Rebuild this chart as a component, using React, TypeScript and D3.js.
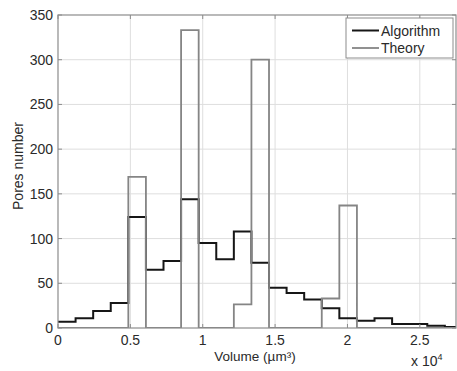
import React, { useEffect, useRef } from 'react';
import * as d3 from 'd3';

// bin edges of the histogram (µm³), last value is the axis end
const binEdges = [0, 1215, 2430, 3645, 4860, 6075, 7290, 8505, 9720, 10935, 12150, 13365,
	14580, 15795, 17010, 18225, 19440, 20655, 21870, 23085, 24300, 25515, 26730, 27500];
const algorithm = [7, 11, 19, 28, 124, 65, 75, 144, 95, 77, 108, 73, 45, 39, 32, 22, 11, 8, 11, 4.5, 4.5, 2.6, 1];
const theory = [0, 0, 0, 0, 169, 0, 0, 333, 0, 0, 26.5, 300, 0, 0, 0, 33, 137, 0, 0, 0, 0, 0, 0];
const xTicks = [0, 5000, 10000, 15000, 20000, 25000];
const yTicks = [0, 50, 100, 150, 200, 250, 300, 350];
const seriesNames = ['Algorithm', 'Theory'];
const seriesColors = ['#161616', '#858585'];

const W = 457, H = 371;
const left = 58, top = 15, right = 456, bottom = 328;

const App = () => {
	const ref = useRef<SVGSVGElement>(null);

	useEffect(() => {
		const svg = d3.select(ref.current);
		svg.selectAll('*').remove();

		const x = d3.scaleLinear().domain([0, 27500]).range([left, right]);
		const y = d3.scaleLinear().domain([0, 350]).range([bottom, top]);

		svg.append('rect').attr('x', 0).attr('y', 0).attr('width', W).attr('height', H).attr('fill', '#fff');

		// grid
		const grid = svg.append('g').attr('stroke', '#dedede').attr('stroke-width', 1);
		xTicks.slice(1).forEach(t => {
			grid.append('line').attr('x1', x(t)).attr('x2', x(t)).attr('y1', top).attr('y2', bottom);
		});
		yTicks.slice(1, -1).forEach(t => {
			grid.append('line').attr('x1', left).attr('x2', right).attr('y1', y(t)).attr('y2', y(t));
		});

		svg.append('defs').append('clipPath').attr('id', 'plotClip')
			.append('rect').attr('x', left).attr('y', top - 2).attr('width', right - left).attr('height', bottom - top + 2);

		const line = d3.line<[number, number]>()
			.x(d => x(d[0]))
			.y(d => y(d[1]))
			.curve(d3.curveStepAfter);

		const stairs = (vals: number[]) => {
			const pts: [number, number][] = vals.map((v, i) => [binEdges[i], v]);
			pts.push([binEdges[binEdges.length - 1], vals[vals.length - 1]]);
			return pts;
		};

		const plot = svg.append('g').attr('clip-path', 'url(#plotClip)');
		plot.append('path').attr('d', line(stairs(algorithm)))
			.attr('fill', 'none').attr('stroke', seriesColors[0]).attr('stroke-width', 2);
		plot.append('path').attr('d', line(stairs(theory)))
			.attr('fill', 'none').attr('stroke', seriesColors[1]).attr('stroke-width', 1.8);

		// box
		svg.append('rect').attr('x', left).attr('y', top).attr('width', right - left).attr('height', bottom - top)
			.attr('fill', 'none').attr('stroke', '#8c8c8c').attr('stroke-width', 1.2);

		// ticks (inward, on all sides)
		const tk = svg.append('g').attr('stroke', '#8c8c8c').attr('stroke-width', 1);
		xTicks.forEach(t => {
			tk.append('line').attr('x1', x(t)).attr('x2', x(t)).attr('y1', bottom).attr('y2', bottom - 4);
			tk.append('line').attr('x1', x(t)).attr('x2', x(t)).attr('y1', top).attr('y2', top + 4);
		});
		yTicks.forEach(t => {
			tk.append('line').attr('x1', left).attr('x2', left + 4).attr('y1', y(t)).attr('y2', y(t));
			tk.append('line').attr('x1', right).attr('x2', right - 4).attr('y1', y(t)).attr('y2', y(t));
		});

		const font = 'Arial, "Liberation Sans", sans-serif';
		const txt = svg.append('g').attr('font-family', font).attr('font-size', 14).attr('fill', '#2a2a2a');
		xTicks.forEach(t => {
			txt.append('text').attr('x', x(t)).attr('y', 345).attr('text-anchor', 'middle')
				.text(d3.format('')(t / 10000));
		});
		yTicks.forEach(t => {
			txt.append('text').attr('x', 53).attr('y', y(t) + 5).attr('text-anchor', 'end').text(t);
		});
		txt.append('text').attr('x', 255).attr('y', 361).attr('text-anchor', 'middle').attr('font-size', 13.5)
			.text('Volume (µm³)');
		const exp = txt.append('text').attr('x', 411).attr('y', 366);
		exp.append('tspan').text('x 10');
		exp.append('tspan').attr('font-size', 9).attr('dy', -6).text('4');
		txt.append('text').attr('transform', 'translate(23,166) rotate(-90)').attr('text-anchor', 'middle')
			.text('Pores number');

		// legend
		const lg = svg.append('g');
		lg.append('rect').attr('x', 346).attr('y', 18).attr('width', 107).attr('height', 40)
			.attr('fill', '#fff').attr('stroke', '#8c8c8c').attr('stroke-width', 1);
		seriesNames.forEach((n, i) => {
			const yy = 30.5 + i * 17.5;
			lg.append('line').attr('x1', 352).attr('x2', 379).attr('y1', yy).attr('y2', yy)
				.attr('stroke', seriesColors[i]).attr('stroke-width', i === 0 ? 2 : 1.8);
			lg.append('text').attr('x', 381).attr('y', yy + 5).attr('font-family', font).attr('font-size', 14)
				.attr('fill', '#2a2a2a').text(n);
		});
	}, []);

	return (
		<svg ref={ref} width={W} height={H} style={{ position: 'absolute', left: 0, top: 0 }} />
	);
};

export default App;
